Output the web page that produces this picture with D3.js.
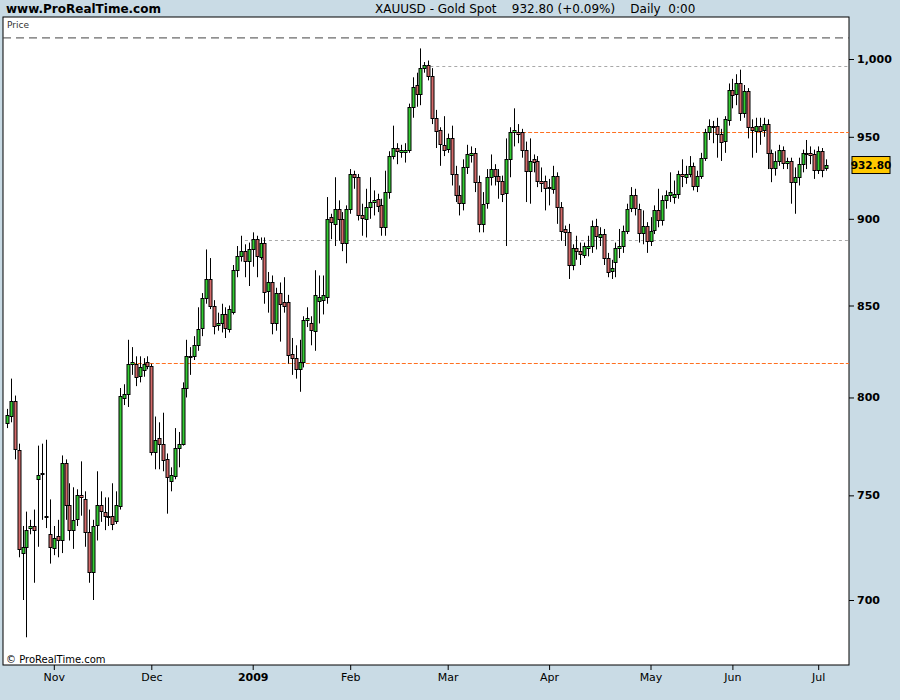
<!DOCTYPE html>
<html><head><meta charset="utf-8">
<script src="https://cdn.jsdelivr.net/npm/d3@7"></script>
<style>body{margin:0;background:#c9dbe5;font-family:"DejaVu Sans",sans-serif}</style>
</head><body><svg id="chart" width="900" height="700"></svg>
<script>
// daily candles [open, high, low, close]
const candles = [
[787,794,784,791],[790,810,787,798],[798,801,768,773],[773,776,720,724],[722,735,700,725],
[725,742,683,733],[734,738,731,735],[735,743,708,733],[758,775,725,760],[761,776,738,761],
[740,778,734,740],[731,748,717,725],[724,735,721,729],[730,738,720,728],[728,770,722,766],
[766,768,738,745],[745,756,728,733],[733,754,724,738],[738,753,735,750],[750,767,740,749],
[748,752,725,732],[732,743,708,713],[713,738,700,735],[735,762,728,745],[745,752,737,742],
[742,749,733,740],[740,749,735,740],[740,756,733,736],[737,752,736,745],[745,805,743,801],
[800,807,796,802],[802,831,795,818],[818,827,812,819],[818,822,806,811],[811,822,808,816],
[815,821,811,818],[819,822,815,817],[817,818,770,772],[772,790,763,778],[779,787,763,776],
[776,792,762,768],[768,771,741,759],[757,764,752,760],[760,784,758,774],[774,782,764,776],
[776,808,775,805],[805,831,800,822],[822,827,812,822],[822,833,820,828],[828,849,825,837],
[837,857,833,854],[854,882,851,865],[865,877,848,850],[850,853,834,839],[839,846,836,840],
[840,851,835,845],[845,849,832,837],[837,850,835,848],[846,873,845,870],[870,884,866,878],
[878,890,875,881],[881,885,866,875],[875,886,861,882],[882,892,872,888],[888,890,866,878],
[878,889,876,886],[886,889,851,858],[858,869,846,863],[863,867,834,840],[840,860,836,857],
[857,863,830,851],[852,866,846,850],[852,856,818,823],[823,832,812,821],[821,828,810,815],
[815,831,803,819],[819,844,816,842],[842,849,838,843],[840,844,828,836],[836,870,825,856],
[853,867,840,855],[853,867,845,856],[855,913,851,900],[901,903,888,898],[897,925,884,906],
[906,911,887,900],[900,904,881,886],[886,908,874,906],[906,930,903,927],[927,929,918,925],
[925,927,899,902],[902,909,890,900],[900,918,889,907],[907,925,900,910],[910,917,902,911],
[912,915,904,908],[908,912,890,895],[895,929,890,916],[916,941,912,938],[938,957,936,943],
[943,946,933,941],[941,945,937,942],[941,946,934,942],[942,971,940,969],[969,988,962,982],
[983,991,969,977],[977,1007,970,994],[994,998,991,996],[996,999,986,989],[989,994,958,962],
[962,967,943,954],[954,956,932,945],[945,963,938,942],[942,952,940,949],[949,957,920,927],
[927,932,910,914],[914,920,902,909],[909,936,905,931],[931,945,927,939],[939,944,934,940],
[940,943,916,922],[922,926,892,897],[897,916,892,909],[909,930,906,925],[925,939,920,930],
[930,933,920,926],[926,930,912,923],[923,926,910,915],[915,949,884,936],[936,956,925,953],
[953,968,944,954],[953,958,946,952],[953,955,937,942],[942,947,910,929],[929,949,909,935],
[936,939,928,934],[935,938,919,923],[923,931,916,922],[923,926,905,919],[919,924,908,919],
[918,932,915,926],[926,928,897,907],[907,910,887,893],[894,896,884,892],[892,897,865,873],
[873,885,870,883],[883,890,876,881],[881,886,873,879],[879,886,877,884],[883,890,878,884],
[884,899,880,896],[896,900,882,890],[889,895,884,891],[891,894,873,877],[877,880,866,869],
[869,876,865,871],[875,886,866,883],[883,894,877,884],[884,896,880,893],[893,909,891,906],
[906,919,904,914],[914,918,902,906],[906,909,886,892],[892,905,885,896],[896,898,880,887],
[887,901,884,893],[893,908,891,905],[905,918,895,899],[899,914,896,911],[911,917,906,914],
[914,928,910,916],[913,923,909,915],[915,929,912,927],[927,936,919,926],[925,932,921,927],
[927,938,925,932],[932,934,917,920],[920,929,916,926],[926,940,924,937],[937,955,935,953],
[953,961,948,957],[957,960,946,957],[957,962,937,952],[952,955,935,947],[947,963,940,961],
[961,984,957,980],[980,987,968,977],[977,990,970,984],[984,993,960,965],[965,983,962,979],
[979,981,949,956],[956,961,937,954],[954,962,940,957],[957,962,945,954],[954,962,950,958],
[958,961,930,940],[940,942,922,931],[931,941,926,935],[935,945,932,942],[942,944,930,934],
[934,937,930,935],[935,937,909,922],[922,931,903,925],[925,937,920,933],[933,942,928,940],
[940,948,930,940],[940,944,933,939],[939,942,924,929],[929,944,927,941],[941,943,925,929],
[931,936,929,932.8]
];
const monthLabels = ['Nov','Dec','2009','Feb','Mar','Apr','May','Jun','Jul'];
const monthIndex = [12,37,63,88,113,139,165,186,208];
const priceTicks = [700,750,800,850,900,950,1000];
// horizontal reference levels: [price, start candle index, style]
const levels = [[995.4,107,'light'],[953,129,'orange'],[887.3,61,'light'],[818.2,32,'orange']];
const topLine = 1014;
const lastPrice = 932.80;

const svg = d3.select('#chart');
const L = 3, R = 849, T = 17, B = 665;

const x = d3.scaleLinear().domain([0, candles.length - 1]).range([7, 826]);
const y = d3.scaleLog().domain([700, 1000]).range([600, 59]);

svg.append('rect').attr('x', L).attr('y', T).attr('width', R - L).attr('height', B - T)
  .attr('fill', '#fff').attr('stroke', '#000');

// header
svg.append('text').attr('x', 6).attr('y', 13).attr('font-size', 12).attr('font-weight', 'bold')
  .text('www.ProRealTime.com');
svg.append('text').attr('x', 375).attr('y', 13).attr('font-size', 12).attr('xml:space', 'preserve')
  .text('XAUUSD - Gold Spot    932.80 (+0.09%)    Daily  0:00');
svg.append('text').attr('x', 7).attr('y', 28).attr('font-size', 9).attr('fill', '#333').text('Price');
svg.append('text').attr('x', 6).attr('y', 663).attr('font-size', 10).text('© ProRealTime.com');

svg.append('line').attr('x1', L).attr('x2', R).attr('y1', y(topLine)).attr('y2', y(topLine))
  .attr('stroke', '#444').attr('stroke-dasharray', '8,5');

svg.selectAll('line.level').data(levels).join('line').attr('class', 'level')
  .attr('x1', d => x(d[1])).attr('x2', R).attr('y1', d => Math.round(y(d[0])) + 0.5).attr('y2', d => Math.round(y(d[0])) + 0.5)
  .attr('stroke', d => d[2] === 'orange' ? '#ff7020' : '#a8a8a8')
  .attr('stroke-dasharray', d => d[2] === 'orange' ? '4,2' : '3,3');

const g = svg.append('g');
g.selectAll('line.wick').data(candles).join('line').attr('class', 'wick')
  .attr('x1', (d, i) => Math.round(x(i)) + 0.5).attr('x2', (d, i) => Math.round(x(i)) + 0.5)
  .attr('y1', d => y(d[1])).attr('y2', d => y(d[2])).attr('stroke', '#000');
g.selectAll('rect.body').data(candles).join('rect').attr('class', 'body')
  .attr('x', (d, i) => Math.round(x(i)) - 1)
  .attr('y', d => Math.round(y(Math.max(d[0], d[3]))) + 0.5)
  .attr('width', 3)
  .attr('height', d => Math.max(1, Math.round(Math.abs(y(d[0]) - y(d[3])))))
  .attr('fill', d => d[3] >= d[0] ? '#33cc33' : '#d46a6a')
  .attr('stroke', '#000');

// right axis
const ya = svg.append('g').attr('transform', `translate(${R},0)`)
  .call(d3.axisRight(y).tickValues(priceTicks).tickSize(5).tickFormat(d3.format(',')));
ya.select('.domain').remove();
ya.selectAll('text').attr('font-size', 11).attr('font-weight', 'bold').attr('font-family', 'DejaVu Sans');

// bottom axis
const xa = svg.append('g').attr('transform', `translate(0,${B})`)
  .call(d3.axisBottom(x).tickValues(monthIndex).tickSize(5).tickFormat((d, i) => monthLabels[i]));
xa.select('.domain').remove();
xa.selectAll('text').attr('font-size', 11).attr('font-family', 'DejaVu Sans')
  .attr('font-weight', (d, i) => monthLabels[i] === '2009' ? 'bold' : 'normal');

// last price tag
const tag = svg.append('g').attr('transform', `translate(852,${y(lastPrice)})`);
tag.append('rect').attr('x', 0).attr('y', -8).attr('width', 38).attr('height', 17)
  .attr('fill', '#ffc800').attr('stroke', '#000');
tag.append('text').attr('x', 19).attr('y', 4.5).attr('text-anchor', 'middle')
  .attr('font-size', 10.5).attr('font-weight', 'bold').text(lastPrice.toFixed(2));
</script></body></html>
